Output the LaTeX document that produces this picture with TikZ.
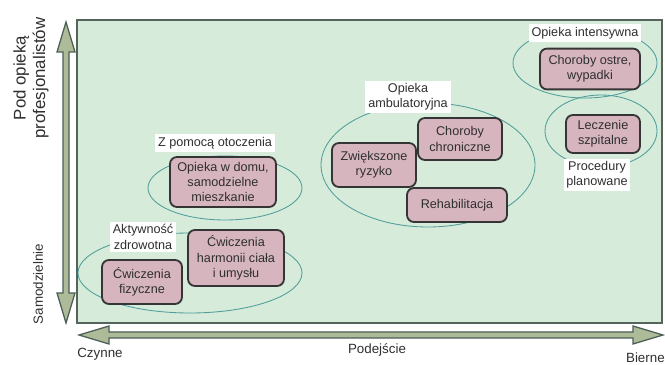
\documentclass[tikz,border=0pt]{standalone}
\usepackage{fontspec}
\setmainfont{Liberation Sans}
\usetikzlibrary{shapes.geometric}
\definecolor{panelfill}{HTML}{D6EBDA}
\definecolor{panelline}{HTML}{55655C}
\definecolor{boxfill}{HTML}{D6B5BF}
\definecolor{boxline}{HTML}{353535}
\definecolor{ringline}{HTML}{4F9E9A}
\definecolor{arrowfill}{HTML}{AEBB98}
\definecolor{arrowline}{HTML}{4C5E56}
\definecolor{textcol}{HTML}{2F2F2F}
\tikzset{
  box/.style={draw=boxline, line width=1.3pt, fill=boxfill, rounded corners=5pt,
    align=center, text=textcol, inner sep=1pt, font=\fontsize{9}{10.8}\selectfont},
  ring/.style={draw=ringline, line width=0.6pt},
  tag/.style={fill=white, align=center, text=textcol, inner sep=2pt,
    font=\fontsize{9}{10.8}\selectfont},
  axislabel/.style={text=textcol, align=center, font=\fontsize{9.5}{11}\selectfont}
}
\begin{document}
\begin{tikzpicture}[x=0.025cm, y=-0.025cm]
		%%%%% START %%%%%
		\useasboundingbox (0, 0) rectangle (665, 365);
		
		\draw[fill=panelfill, draw=panelline, line width=1.2pt] (77, 20) rectangle (662, 323);
		
		% vertical axis
		\draw[fill=arrowfill, draw=arrowline, line width=0.9pt] (66, 22) -- (75, 52) -- (69, 52) -- (69, 293) -- (75, 293) -- (66, 323) -- (57, 293) -- (63, 293) -- (63, 52) -- (57, 52) -- cycle;
		% horizontal axis
		\draw[fill=arrowfill, draw=arrowline, line width=0.9pt] (79, 335) -- (109, 326) -- (109, 332) -- (633, 332) -- (633, 326) -- (663, 335) -- (633, 344) -- (633, 338) -- (109, 338) -- (109, 344) -- cycle;
		
		\node[axislabel, rotate=90, font=\fontsize{12}{14}\selectfont] (pod) at (31, 78) {Pod opieką\\profesjonalistów};
		\node[axislabel, rotate=90] (samo) at (38, 284) {Samodzielnie};
		\node[axislabel] (czynne) at (100, 354) {Czynne};
		\node[axislabel] (podejscie) at (377, 350) {Podejście};
		\node[axislabel, anchor=east, inner sep=0pt] (bierne) at (665, 358) {Bierne};
		
		% rings
		\draw[ring] (225, 188) ellipse (77 and 32);
		\draw[ring] (190, 273) ellipse (112 and 40);
		\draw[ring] (428, 165) ellipse (107 and 62);
		\draw[ring] (585, 63) ellipse (72 and 35);
		\draw[ring] (601, 131) ellipse (56 and 36);
		
		% boxes
		\node[box, minimum width=2.65cm, minimum height=1.25cm] (dom) at (223, 182) {Opieka w domu,\\samodzielne\\mieszkanie};
		\node[box, minimum width=2.4cm, minimum height=1.4cm] (harmonia) at (236, 258) {Ćwiczenia\\harmonii ciała\\i umysłu};
		\node[box, minimum width=2cm, minimum height=1.1cm] (fizyczne) at (142, 282) {Ćwiczenia\\fizyczne};
		\node[box, minimum width=2.1cm, minimum height=1.1cm] (ryzyko) at (374, 165) {Zwiększone\\ryzyko};
		\node[box, minimum width=2.1cm, minimum height=1.05cm] (chroniczne) at (460, 139) {Choroby\\chroniczne};
		\node[box, minimum width=2.5cm, minimum height=0.85cm] (rehab) at (457, 205) {Rehabilitacja};
		\node[box, minimum width=2.5cm, minimum height=1.02cm] (ostre) at (590, 69) {Choroby ostre,\\wypadki};
		\node[box, minimum width=1.85cm, minimum height=0.95cm] (szpital) at (603, 134) {Leczenie\\szpitalne};
		
		% ring labels
		\node[tag] (otoczenie) at (215, 143) {Z pomocą otoczenia};
		\node[tag] (aktywnosc) at (143, 237) {Aktywność\\zdrowotna};
		\node[tag] (ambulatoryjna) at (408, 97) {Opieka\\ambulatoryjna};
		\node[tag] (intensywna) at (585, 33) {Opieka intensywna};
		\node[tag] (planowane) at (597, 175) {Procedury\\planowane};
		
		%%%%% END %%%%%
	\end{tikzpicture}
\end{document}
